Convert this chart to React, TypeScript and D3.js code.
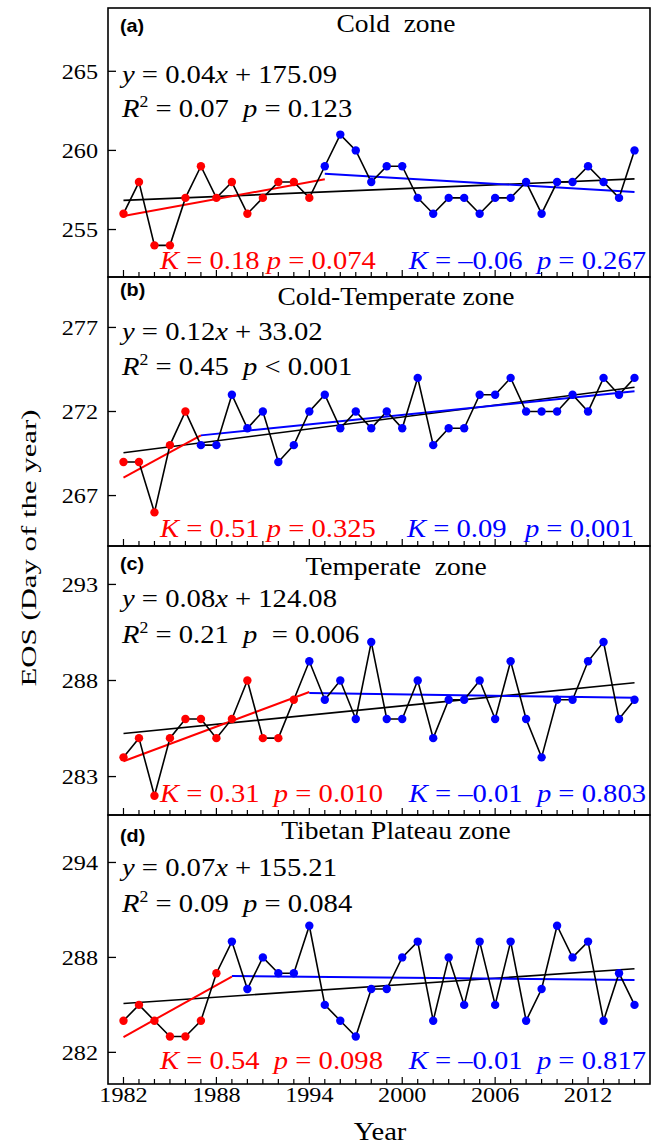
import React from 'react';
import * as d3 from 'd3';

// ---------- DATA ----------
const years = [1982, 1983, 1984, 1985, 1986, 1987, 1988, 1989, 1990, 1991, 1992, 1993, 1994, 1995, 1996, 1997, 1998, 1999, 2000, 2001, 2002, 2003, 2004, 2005, 2006, 2007, 2008, 2009, 2010, 2011, 2012, 2013, 2014, 2015];
const yearLabels = [1982, 1988, 1994, 2000, 2006, 2012];

const coldEOS = [256, 258, 254, 254, 257, 259, 257, 258, 256, 257, 258, 258, 257, 259, 261, 260, 258, 259, 259, 257, 256, 257, 257, 256, 257, 257, 258, 256, 258, 258, 259, 258, 257, 260];
const coldTempEOS = [269, 269, 266, 270, 272, 270, 270, 273, 271, 272, 269, 270, 272, 273, 271, 272, 271, 272, 271, 274, 270, 271, 271, 273, 273, 274, 272, 272, 272, 273, 272, 274, 273, 274];
const temperateEOS = [284, 285, 282, 285, 286, 286, 285, 286, 288, 285, 285, 287, 289, 287, 288, 286, 290, 286, 286, 288, 285, 287, 287, 288, 286, 289, 286, 284, 287, 287, 289, 290, 286, 287];
const tibetanEOS = [284, 285, 284, 283, 283, 284, 287, 289, 286, 288, 287, 287, 290, 285, 284, 283, 286, 286, 288, 289, 284, 288, 285, 289, 285, 289, 284, 286, 290, 288, 289, 284, 287, 285];

// first year of the later (blue) period
const breakYears = [1995, 1987, 1994, 1989];

// trend line end values [start, end]
const overallTrend = [[256.84, 258.2], [269.55, 273.44], [285.24, 287.88], [285.09, 287.28]];
const earlyTrend = [[255.85, 258.18], [268.07, 270.58], [283.8, 287.4], [282.97, 286.79]];
const lateTrend = [[258.52, 257.37], [270.58, 273.2], [287.35, 287.1], [286.83, 286.58]];

const yDomains = [[252, 269], [264, 280], [281, 295], [280, 297]];
const yTicks = [[255, 260, 265], [267, 272, 277], [283, 288, 293], [282, 288, 294]];

const panelTags = ['(a)', '(b)', '(c)', '(d)'];
const panelTitles = ['Cold  zone', 'Cold-Temperate zone', 'Temperate  zone', 'Tibetan Plateau zone'];
const equations = ['_y_ = 0.04_x_ + 175.09', '_y_ = 0.12_x_ + 33.02', '_y_ = 0.08_x_ + 124.08', '_y_ = 0.07_x_ + 155.21'];
const r2Texts = ['_R_^2^ = 0.07  _p_ = 0.123', '_R_^2^ = 0.45  _p_ < 0.001', '_R_^2^ = 0.21  _p_  = 0.006', '_R_^2^ = 0.09  _p_ = 0.084'];
const earlyStats = ['_K_ = 0.18 _p_ = 0.074', '_K_ = 0.51 _p_ = 0.325', '_K_ = 0.31  _p_ = 0.010', '_K_ = 0.54  _p_ = 0.098'];
const lateStats = ['_K_ = –0.06  _p_ = 0.267', '_K_ = 0.09', '_K_ = –0.01  _p_ = 0.803', '_K_ = –0.01  _p_ = 0.817'];
const lateStats2 = ['', '_p_ = 0.001', '', ''];

// ---------- LAYOUT ----------
const W = 657, H = 1147;
const LEFT = 108, RIGHT = 650, TOP = 8, PH = 269;
const RED = '#ff0000', BLUE = '#0000ff';
const SERIF = '"Liberation Serif", "Times New Roman", serif';
const SANS = '"Liberation Sans", Arial, sans-serif';
const SX = 1.1; // horizontal text stretch of the original

const tagY = [24, 19, 24, 27];
const titleY = [24, 28, 29, 24];
const eqY = [75, 63, 61, 61];
const r2Y = [109, 98, 97, 97];
const kY = [8, 9, 13, 15];
const lateX = [646, 407, 646, 646];

const seriesList = [coldEOS, coldTempEOS, temperateEOS, tibetanEOS];

function Rich({ s, x, y, size, fill = '#000', anchor = 'start', family = SERIF, weight = 'normal', rotate = 0, sx = SX }: any) {
  const parts = s.split(/(_[^_]+_|\^[^^]+\^)/).filter((p: string) => p.length > 0);
  const nodes: any[] = [];
  let supOpen = false;
  parts.forEach((p: string, i: number) => {
    if (p.startsWith('_') && p.endsWith('_')) {
      nodes.push(<tspan key={i} fontStyle="italic" dy={supOpen ? size * 0.38 : undefined}>{p.slice(1, -1)}</tspan>);
      supOpen = false;
    } else if (p.startsWith('^') && p.endsWith('^')) {
      nodes.push(<tspan key={i} fontSize={size * 0.62} dy={-size * 0.38}>{p.slice(1, -1)}</tspan>);
      supOpen = true;
    } else {
      nodes.push(<tspan key={i} dy={supOpen ? size * 0.38 : undefined}>{p}</tspan>);
      supOpen = false;
    }
  });
  return (
    <text
      transform={`translate(${x},${y}) rotate(${rotate}) scale(${sx},1)`}
      fontFamily={family}
      fontSize={size}
      fontWeight={weight}
      fill={fill}
      textAnchor={anchor}
      style={{ whiteSpace: 'pre' }}
    >
      {nodes}
    </text>
  );
}

export default function App() {
  const x = d3.scaleLinear().domain([1981, 2016]).range([LEFT, RIGHT]);
  const panels = seriesList.map((vals, i) => {
    const top = TOP + i * PH;
    const bottom = top + PH;
    const y = d3.scaleLinear().domain(yDomains[i]).range([bottom, top]);
    const pts = years.map((yr, j) => ({ yr, v: vals[j] }));
    const line = d3.line<any>().x((d) => x(d.yr)).y((d) => y(d.v));
    const br = breakYears[i];
    return (
      <g key={i}>
        <rect x={LEFT} y={top} width={RIGHT - LEFT} height={PH} fill="none" stroke="#000" strokeWidth={1.6} />
        {years.map((yr) => (
          <line key={yr} x1={x(yr)} x2={x(yr)} y1={bottom} y2={bottom - (yearLabels.includes(yr) ? 7 : 5)} stroke="#000" strokeWidth={1.2} />
        ))}
        {yTicks[i].map((t) => (
          <g key={t}>
            <line x1={LEFT} x2={LEFT + 8} y1={y(t)} y2={y(t)} stroke="#000" strokeWidth={1.3} />
            <Rich s={String(t)} x={LEFT - 10} y={y(t) + 7.5} size={22} anchor="end" />
          </g>
        ))}
        <line x1={x(1982)} x2={x(2015)} y1={y(overallTrend[i][0])} y2={y(overallTrend[i][1])} stroke="#000" strokeWidth={1.6} />
        <line x1={x(1982)} x2={x(br)} y1={y(earlyTrend[i][0])} y2={y(earlyTrend[i][1])} stroke={RED} strokeWidth={2} />
        <line x1={x(br)} x2={x(2015)} y1={y(lateTrend[i][0])} y2={y(lateTrend[i][1])} stroke={BLUE} strokeWidth={2} />
        <path d={line(pts) || ''} fill="none" stroke="#000" strokeWidth={1.6} />
        {pts.map((p) => (
          <circle key={p.yr} cx={x(p.yr)} cy={y(p.v)} r={4.2} fill={p.yr < br ? RED : BLUE} />
        ))}
        <Rich s={panelTags[i]} x={120} y={top + tagY[i]} size={18} family={SANS} weight="bold" />
        <Rich s={panelTitles[i]} x={396} y={top + titleY[i]} size={25} anchor="middle" />
        <Rich s={equations[i]} x={122} y={top + eqY[i]} size={26} />
        <Rich s={r2Texts[i]} x={122} y={top + r2Y[i]} size={26} />
        <Rich s={earlyStats[i]} x={160} y={bottom - kY[i]} size={26} fill={RED} />
        <Rich s={lateStats[i]} x={lateX[i]} y={bottom - kY[i]} size={26} fill={BLUE} anchor={lateStats2[i] ? 'start' : 'end'} />
        {lateStats2[i] ? <Rich s={lateStats2[i]} x={634} y={bottom - kY[i]} size={26} fill={BLUE} anchor="end" /> : null}
      </g>
    );
  });
  const bottomAll = TOP + 4 * PH;
  return (
    <svg width={W} height={H} viewBox={`0 0 ${W} ${H}`} style={{ position: 'absolute', left: 0, top: 0, background: '#fff' }}>
      <rect x={0} y={0} width={W} height={H} fill="#fff" />
      {panels}
      {yearLabels.map((yr) => (
        <Rich key={yr} s={String(yr)} x={x(yr)} y={bottomAll + 18} size={22} anchor="middle" />
      ))}
      <Rich s="Year" x={380} y={1140} size={26} anchor="middle" />
      <Rich s="EOS (Day of the year)" x={36} y={548} size={22} anchor="middle" rotate={-90} sx={1.4} />
    </svg>
  );
}
